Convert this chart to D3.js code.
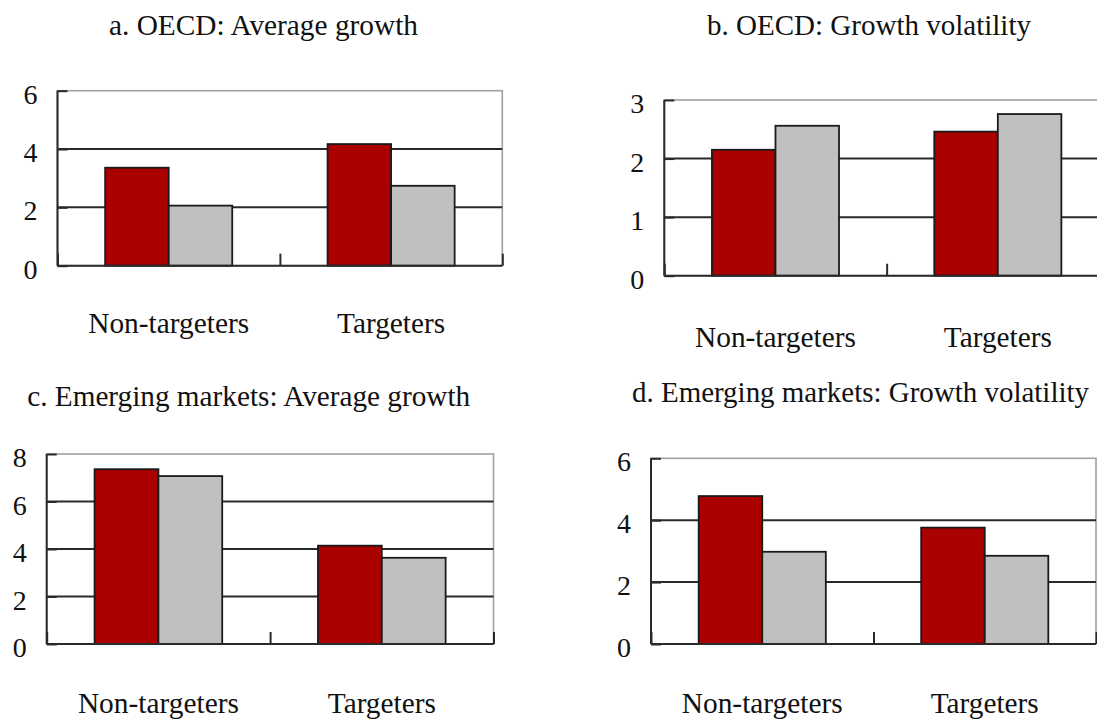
<!DOCTYPE html>
<html>
<head>
<meta charset="utf-8">
<script src="https://cdn.jsdelivr.net/npm/d3@7"></script>
<style>
  html, body { margin: 0; padding: 0; background: #fff; }
  svg { display: block; }
</style>
</head>
<body>
<svg id="chart" width="1097" height="721"></svg>
<script>
// ---- data ----
const categories = ["Non-targeters", "Targeters"];
const seriesNames = ["Series 1", "Series 2"];
const panelTitles = [
  "a. OECD: Average growth",
  "b. OECD: Growth volatility",
  "c. Emerging markets: Average growth",
  "d. Emerging markets: Growth volatility"
];
// values per panel: [Non-targeters, Targeters]
const oecdGrowthS1 = [3.36, 4.17];
const oecdGrowthS2 = [2.06, 2.74];
const oecdVolS1 = [2.15, 2.46];
const oecdVolS2 = [2.56, 2.76];
const emGrowthS1 = [7.36, 4.14];
const emGrowthS2 = [7.07, 3.63];
const emVolS1 = [4.78, 3.76];
const emVolS2 = [2.98, 2.85];
const yTicksA = [0, 2, 4, 6];
const yTicksB = [0, 1, 2, 3];
const yTicksC = [0, 2, 4, 6, 8];
const yTicksD = [0, 2, 4, 6];

const colors = ["#aa0000", "#c0c0c0"];
const FONT = '"Liberation Serif"';
const catWidths = { "Non-targeters": 161, "Targeters": 108 };

// ---- layout ----
const panels = [
  { title: panelTitles[0], s1: oecdGrowthS1, s2: oecdGrowthS2, ticks: yTicksA,
    left: 57.5, right: 502.3, top: 90.7, bottom: 265.7, titleX: 263.5, titleY: 35, titleW: 309, catY: 333 },
  { title: panelTitles[1], s1: oecdVolS1, s2: oecdVolS2, ticks: yTicksB,
    left: 664.3, right: 1109, top: 100, bottom: 275.7, titleX: 869, titleY: 35, titleW: 324, catY: 347 },
  { title: panelTitles[2], s1: emGrowthS1, s2: emGrowthS2, ticks: yTicksC,
    left: 46.7, right: 493.5, top: 454, bottom: 644, titleX: 248.7, titleY: 406, titleW: 443, catY: 713 },
  { title: panelTitles[3], s1: emVolS1, s2: emVolS2, ticks: yTicksD,
    left: 651, right: 1096, top: 458.3, bottom: 644, titleX: 860.5, titleY: 402, titleW: 457, catY: 713 }
];

const svg = d3.select("#chart");

panels.forEach(p => {
  const g = svg.append("g");
  const yMax = d3.max(p.ticks);
  const y = d3.scaleLinear().domain([0, yMax]).range([p.bottom, p.top]);
  const x0 = d3.scaleBand().domain(categories).range([p.left, p.right]).padding(0);
  const x1 = d3.scaleBand().domain(seriesNames).range([0, x0.bandwidth()])
    .paddingInner(0).paddingOuter(0.75);

  // title
  g.append("text")
    .attr("x", p.titleX).attr("y", p.titleY)
    .attr("text-anchor", "middle")
    .style("font-family", FONT)
    .style("font-size", "29px")
    .attr("fill", "#111")
    .attr("textLength", p.titleW)
    .attr("lengthAdjust", "spacingAndGlyphs")
    .text(p.title);

  // plot area border (gray top & right)
  g.append("rect")
    .attr("x", p.left).attr("y", p.top)
    .attr("width", p.right - p.left).attr("height", p.bottom - p.top)
    .attr("fill", "none").attr("stroke", "#a0a0a0").attr("stroke-width", 1.6);

  // gridlines (dark) except top
  g.selectAll(".grid").data(p.ticks.filter(t => t > 0 && t < yMax)).enter()
    .append("line")
    .attr("x1", p.left).attr("x2", p.right)
    .attr("y1", d => y(d)).attr("y2", d => y(d))
    .attr("stroke", "#2a2a2a").attr("stroke-width", 2);

  // bars
  const data = categories.map((c, i) => ({ cat: c, vals: [p.s1[i], p.s2[i]] }));
  const grp = g.selectAll(".grp").data(data).enter().append("g")
    .attr("transform", d => `translate(${x0(d.cat)},0)`);
  grp.selectAll("rect").data(d => d.vals.map((v, j) => ({ s: seriesNames[j], v, j })))
    .enter().append("rect")
    .attr("x", d => x1(d.s))
    .attr("width", x1.bandwidth())
    .attr("y", d => y(d.v))
    .attr("height", d => y(0) - y(d.v))
    .attr("fill", d => colors[d.j])
    .attr("stroke", "#1a1a1a").attr("stroke-width", 1.8);

  // y axis (left), ticks inside
  const yAxis = d3.axisRight(y).tickValues(p.ticks).tickSize(10).tickFormat("");
  const ya = g.append("g").attr("transform", `translate(${p.left},0)`).call(yAxis);
  ya.select(".domain").attr("stroke", "#2a2a2a").attr("stroke-width", 2)
    .attr("d", `M0,${p.top}V${p.bottom}`);
  ya.selectAll(".tick line").attr("stroke", "#2a2a2a").attr("stroke-width", 2);

  // y tick labels
  g.selectAll(".ylab").data(p.ticks).enter().append("text")
    .attr("x", p.left - 20).attr("y", d => y(d) + 13)
    .attr("text-anchor", "end")
    .style("font-family", FONT)
    .style("font-size", "28px")
    .attr("fill", "#111")
    .text(d => d);

  // x axis with category boundary ticks pointing up
  const boundaries = categories.map(c => x0(c)).concat([p.right]);
  const xb = d3.scaleLinear().domain([p.left, p.right]).range([p.left, p.right]);
  const xAxis = d3.axisTop(xb).tickValues(boundaries).tickSize(12).tickFormat("");
  const xa = g.append("g").attr("transform", `translate(0,${p.bottom})`).call(xAxis);
  xa.select(".domain").attr("stroke", "#2a2a2a").attr("stroke-width", 2)
    .attr("d", `M${p.left},0H${p.right}`);
  xa.selectAll(".tick line").attr("stroke", "#2a2a2a").attr("stroke-width", 2);

  // category labels
  g.selectAll(".clab").data(categories).enter().append("text")
    .attr("x", d => x0(d) + x0.bandwidth() / 2)
    .attr("y", p.catY)
    .attr("text-anchor", "middle")
    .style("font-family", FONT)
    .style("font-size", "29px")
    .attr("fill", "#111")
    .attr("textLength", d => catWidths[d])
    .attr("lengthAdjust", "spacingAndGlyphs")
    .text(d => d);
});
</script>
</body>
</html>
